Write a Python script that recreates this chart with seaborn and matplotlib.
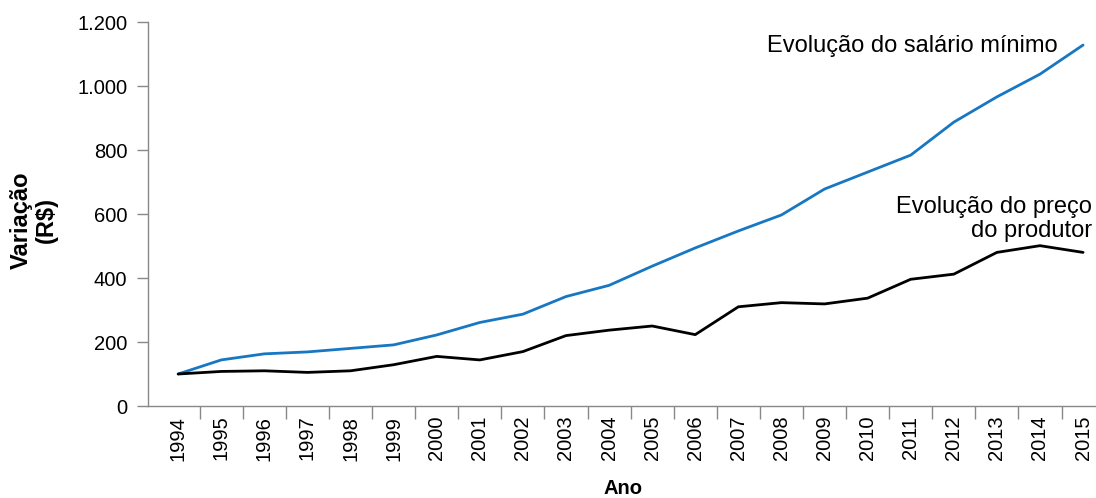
import matplotlib
matplotlib.use('Agg')
import matplotlib.pyplot as plt
import matplotlib.ticker as mticker
import seaborn as sns
import pandas as pd

# Dados
anos = list(range(1994, 2016))
salario_minimo = [100, 144, 163, 169, 180, 191, 222, 261, 287, 342, 377, 437,
                  494, 547, 597, 678, 731, 784, 887, 966, 1037, 1128]
preco_produtor = [100, 108, 110, 105, 110, 129, 155, 144, 170, 220, 237, 250,
                  223, 310, 323, 319, 337, 396, 412, 480, 501, 480]

df = pd.DataFrame({
    'pos': range(len(anos)),
    'Ano': anos,
    'salario': salario_minimo,
    'preco': preco_produtor,
})

sns.set_style('white')
plt.rcParams['font.family'] = ['Liberation Sans', 'DejaVu Sans']
plt.rcParams['text.color'] = 'black'
plt.rcParams['axes.labelcolor'] = 'black'

fig = plt.figure(figsize=(10.96, 4.98), dpi=100)
ax = fig.add_axes([148 / 1096, 1 - 406 / 498, 948 / 1096, 384 / 498])

sns.lineplot(data=df, x='pos', y='salario', color='#1777c2', linewidth=2.0, ax=ax)
sns.lineplot(data=df, x='pos', y='preco', color='black', linewidth=2.0, ax=ax)

ax.set_ylim(0, 1200)
ax.set_xlim(-0.70, 21.3)

# eixo y
ax.yaxis.set_major_locator(mticker.MultipleLocator(200))
ax.yaxis.set_major_formatter(mticker.FuncFormatter(lambda v, p: f'{int(v):,}'.replace(',', '.')))
ax.tick_params(axis='y', which='major', left=True, length=8, width=1, color='#888888',
               labelcolor='black', pad=7, labelsize=14.5)

# eixo x: rótulos no centro, separadores entre anos
ax.set_xticks(df['pos'])
ax.set_xticklabels([str(a) for a in anos], rotation=90)
ax.set_xticks([p + 0.5 for p in df['pos'][:-1]], minor=True)
ax.tick_params(axis='x', which='major', length=0, pad=7, labelsize=14.5, labelcolor='black')
ax.tick_params(axis='x', which='minor', bottom=True, length=9, width=1, color='#888888')

for s in ['top', 'right']:
    ax.spines[s].set_visible(False)
for s in ['left', 'bottom']:
    ax.spines[s].set_color('#888888')
    ax.spines[s].set_linewidth(1)

ax.set_ylabel('Variação\n(R$)', fontsize=17, fontweight='bold', linespacing=1.1)
ax.yaxis.label.set_verticalalignment('center')
ax.yaxis.set_label_coords(-0.12, 0.484)
ax.set_xlabel('Ano', fontsize=14.5, fontweight='bold')
ax.xaxis.set_label_coords(0.501, -0.19)

ax.text(20.4, 1106, 'Evolução do salário mínimo', fontsize=17, ha='right', va='baseline')
ax.text(21.2, 528, 'Evolução do preço\ndo produtor', fontsize=17, ha='right', va='baseline',
        multialignment='right', linespacing=1.1)

fig.savefig('out.png', dpi=100)
